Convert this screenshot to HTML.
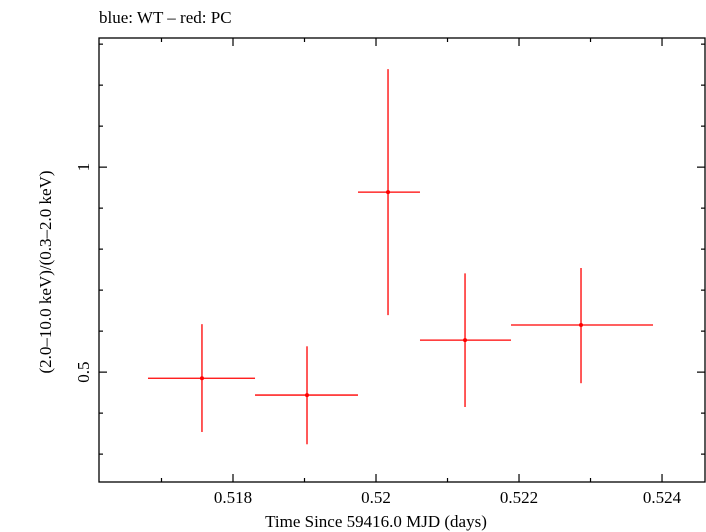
<!DOCTYPE html>
<html><head><meta charset="utf-8"><style>
html,body{margin:0;padding:0;background:#fff;}
svg{display:block;font-family:"Liberation Serif",serif;}
</style></head><body>
<svg id="chart" width="706" height="532">
<text x="99" y="23" font-size="17">blue: WT – red: PC</text>
<rect x="99" y="38" width="606" height="444" fill="none" stroke="#000" stroke-width="1.3"/>
<g id="ticks"></g>
<g id="marks"></g>
<text x="376" y="527" font-size="17" text-anchor="middle">Time Since 59416.0 MJD (days)</text>
<text transform="translate(51,272) rotate(-90)" font-size="17" text-anchor="middle">(2.0–10.0 keV)/(0.3–2.0 keV)</text>
</svg>
<script>
const timeCenters=[0.517566,0.519035,0.520168,0.521245,0.522867];
const timeLow=[0.516811,0.518308,0.519748,0.520615,0.521888];
const timeHigh=[0.518308,0.519748,0.520615,0.521888,0.523874];
const ratioValues=[0.485,0.444,0.939,0.578,0.615];
const ratioHigh=[0.617,0.563,1.239,0.741,0.754];
const ratioLow=[0.354,0.324,0.639,0.415,0.473];
const xTickLabels=["0.518","0.52","0.522","0.524"];
const xTickValues=[0.518,0.520,0.522,0.524];
const yTickLabels=["0.5","1"];
const yTickValues=[0.5,1];

const X0=99,X1=705,Y0=38,Y1=482;
const xMin=0.516126,xMax=0.524601,yMin=0.232,yMax=1.315;
const xs=v=>X0+(v-xMin)/(xMax-xMin)*(X1-X0);
const ys=v=>Y1-(v-yMin)/(yMax-yMin)*(Y1-Y0);
const NS="http://www.w3.org/2000/svg";
function mk(tag,attrs,parent){const e=document.createElementNS(NS,tag);for(const k in attrs)e.setAttribute(k,attrs[k]);parent.appendChild(e);return e;}
const tg=document.getElementById('ticks'),mg=document.getElementById('marks');
for(let v=0.517;v<=0.5245;v+=0.001){
  const major=Math.abs(Math.round(v*1000)%2)===0;const x=xs(v);const L=major?8:4;
  let t=mk('line',{x1:x,x2:x,y1:Y1,y2:Y1-L,stroke:'#000','stroke-width':1.2},tg);
  
  t=mk('line',{x1:x,x2:x,y1:Y0,y2:Y0+L,stroke:'#000','stroke-width':1.2},tg);
  
}
xTickValues.forEach((v,i)=>{const t=mk('text',{x:xs(v),y:503,'font-size':17,'text-anchor':'middle'},tg);t.textContent=xTickLabels[i];
});
for(let k=3;k<=13;k++){const v=k/10;const major=(k===5||k===10);const y=ys(v);const L=major?8:4;
  let t=mk('line',{x1:X0,x2:X0+L,y1:y,y2:y,stroke:'#000','stroke-width':1.2},tg);
  
  t=mk('line',{x1:X1,x2:X1-L,y1:y,y2:y,stroke:'#000','stroke-width':1.2},tg);
  
}
yTickValues.forEach((v,i)=>{const y=ys(v);const t=mk('text',{x:0,y:0,'font-size':17,'text-anchor':'middle',transform:`translate(89,${y}) rotate(-90)`},tg);t.textContent=yTickLabels[i];
});
timeCenters.forEach((c,i)=>{
  const g=mk('g',{},mg);
  
  
  mk('line',{x1:xs(timeLow[i]),x2:xs(timeHigh[i]),y1:ys(ratioValues[i]),y2:ys(ratioValues[i]),stroke:'#f00','stroke-width':1.3},g);
  mk('line',{x1:xs(c),x2:xs(c),y1:ys(ratioLow[i]),y2:ys(ratioHigh[i]),stroke:'#f00','stroke-width':1.3},g);
  mk('circle',{cx:xs(c),cy:ys(ratioValues[i]),r:2,fill:'#f00'},g);
});
</script>
</body></html>
